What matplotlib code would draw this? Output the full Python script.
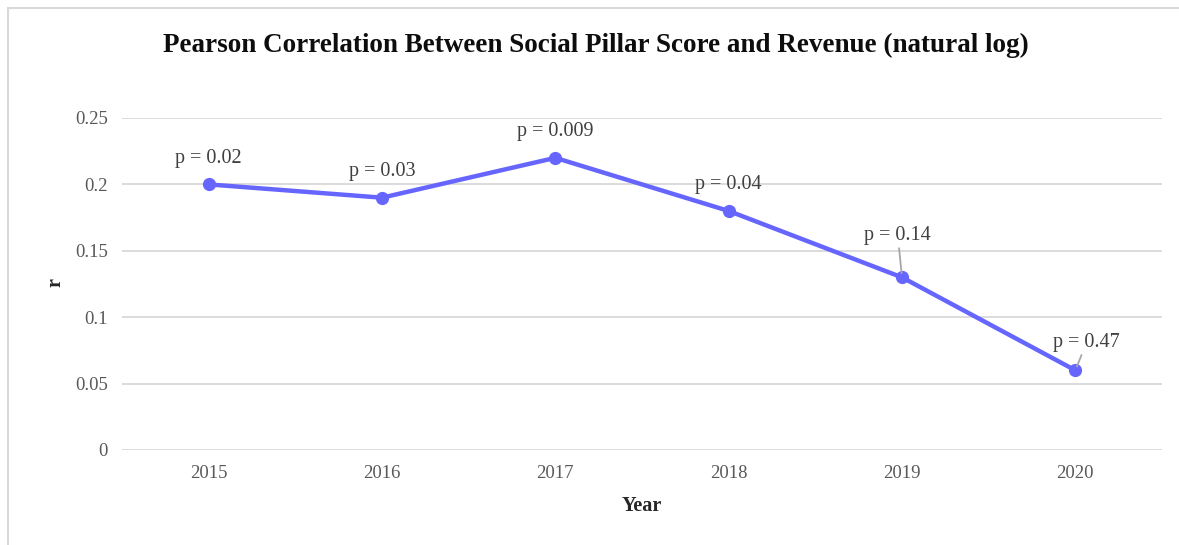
import matplotlib.pyplot as plt
from matplotlib.patches import Rectangle

plt.rcParams['font.family'] = ['Liberation Serif', 'DejaVu Serif']

years = ['2015', '2016', '2017', '2018', '2019', '2020']
r_values = [0.20, 0.19, 0.22, 0.18, 0.13, 0.06]
p_labels = ['p = 0.02', 'p = 0.03', 'p = 0.009', 'p = 0.04', 'p = 0.14', 'p = 0.47']
# label offsets in points (dx, dy) and whether a leader line is drawn
label_offsets = [(0, 12), (0, 12), (0, 12), (0, 12), (-3, 23), (8, 13)]
leaders = [False, False, False, False, True, True]

fig = plt.figure(figsize=(11.79, 5.45), dpi=100)
fig.patches.append(Rectangle((8 / 1179, -1), 2, 1 - 8 / 545 + 1, transform=fig.transFigure,
                             fill=False, edgecolor='#d9d9d9', linewidth=1.5))

ax = fig.add_axes([122 / 1179, 1 - 450 / 545, 1040 / 1179, 332 / 545])
x = range(len(years))
ax.plot(x, r_values, '-o', color='#6666ff', linewidth=3.2, markersize=8.5, zorder=3)

for i, (xi, yi) in enumerate(zip(x, r_values)):
    dx, dy = label_offsets[i]
    arrow = dict(arrowstyle='-', color='#a6a6a6', lw=1.3, shrinkA=0, shrinkB=3) if leaders[i] else None
    ax.annotate(p_labels[i], (xi, yi), xytext=(dx, dy), textcoords='offset points',
                ha='center', va='bottom', fontsize=14.5, color='#404040', arrowprops=arrow)

ax.set_xlim(-0.5, len(years) - 0.5)
ax.set_ylim(0, 0.25)
ax.set_yticks([0, 0.05, 0.1, 0.15, 0.2, 0.25])
ax.set_yticklabels(['0', '0.05', '0.1', '0.15', '0.2', '0.25'])
ax.set_xticks(list(x))
ax.set_xticklabels(years)
ax.tick_params(axis='both', length=0, labelsize=13.5, labelcolor='#595959')
ax.tick_params(axis='y', pad=10)
ax.tick_params(axis='x', pad=11)
ax.grid(axis='y', color='#d9d9d9', linewidth=1.3)
ax.set_axisbelow(True)
for s in ax.spines.values():
    s.set_visible(False)

ax.set_xlabel('Year', fontsize=14.5, fontweight='bold', color='#262626', labelpad=10)
fig.text(55 / 1179, 1 - 283 / 545, 'r', rotation=90, ha='center', va='center',
         fontsize=14.5, fontweight='bold', color='#262626')
fig.text(596 / 1179, 1 - 45 / 545, 'Pearson Correlation Between Social Pillar Score and Revenue (natural log)',
         ha='center', va='center', fontsize=19.5, fontweight='bold', color='#0d0d0d')

plt.savefig('out.png', dpi=100)
plt.close()
